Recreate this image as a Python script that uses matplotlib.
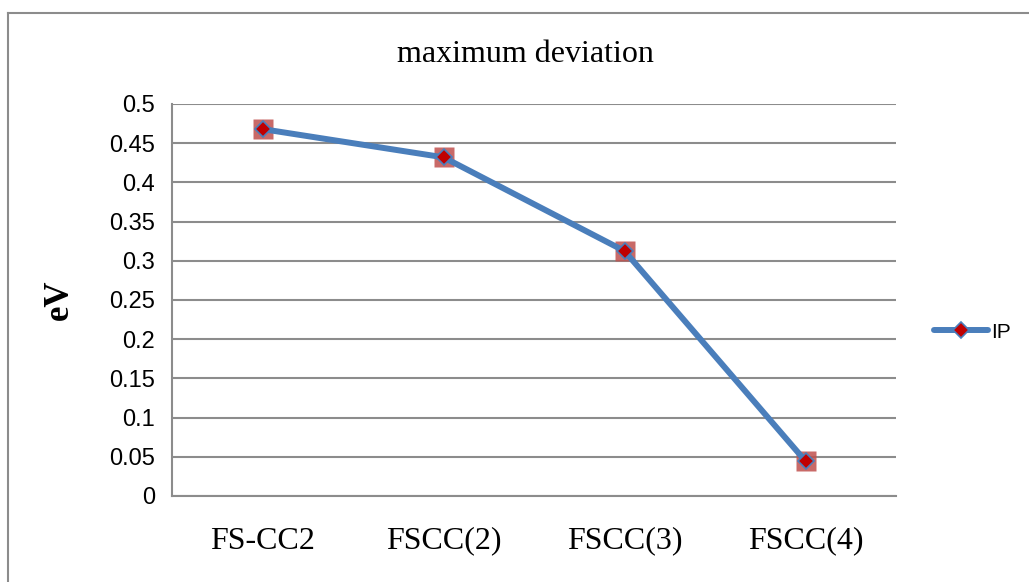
import matplotlib
matplotlib.use("Agg")
import matplotlib.pyplot as plt
from matplotlib.lines import Line2D
import numpy as np

categories = ["FS-CC2", "FSCC(2)", "FSCC(3)", "FSCC(4)"]
ip_values = [0.468, 0.432, 0.3125, 0.0445]
y_ticks = [0, 0.05, 0.1, 0.15, 0.2, 0.25, 0.3, 0.35, 0.4, 0.45, 0.5]
y_ticklabels = ["0", "0.05", "0.1", "0.15", "0.2", "0.25", "0.3", "0.35", "0.4", "0.45", "0.5"]
title = "maximum deviation"
ylabel = "eV"
series_name = "IP"

W, H = 1029, 582
fig = plt.figure(figsize=(W / 100, H / 100), dpi=100)
ax = fig.add_axes([172 / W, 1 - 496 / H, (896 - 172) / W, (496 - 104) / H])

line_color = "#4a7ebb"
grid_color = "#8c8c8c"

x = np.arange(len(categories))
ax.set_xlim(-0.5, len(categories) - 0.5)
ax.set_ylim(0, 0.5)

ax.plot(x, ip_values, linestyle="none", marker="s", markersize=14.4,
        markerfacecolor="#c0504d", markeredgecolor="none", alpha=0.85, zorder=3)
ax.plot(x, ip_values, color=line_color, lw=4.3, solid_capstyle="round",
        solid_joinstyle="round", marker="D", markersize=8.5,
        markerfacecolor="#c00000", markeredgecolor=line_color, markeredgewidth=1.2,
        label=series_name, zorder=4)

ax.set_yticks(y_ticks)
ax.set_yticklabels(y_ticklabels, fontsize=17, fontfamily="Liberation Sans")
ax.set_xticks(x)
ax.set_xticklabels(categories, fontsize=23, fontfamily="Liberation Serif")
ax.tick_params(axis="both", length=0)
ax.tick_params(axis="y", pad=12)
ax.tick_params(axis="x", pad=22)

ax.grid(axis="y", color=grid_color, lw=1.5)
ax.set_axisbelow(True)
for s in ["top", "right"]:
    ax.spines[s].set_visible(False)
for s in ["left", "bottom"]:
    ax.spines[s].set_color(grid_color)
    ax.spines[s].set_linewidth(1.5)

ax.set_ylabel(ylabel, fontsize=25, fontweight="bold", fontfamily="Liberation Serif",
              va="center")
ax.yaxis.set_label_coords(-(172 - 59) / (896 - 172), 0.5)

fig.text(525 / W, 1 - 55 / H, title, fontsize=23, fontfamily="Liberation Serif",
         ha="center", va="center")

fig.legend(loc="center left", bbox_to_anchor=(934 / W, 1 - 332 / H),
           frameon=False, handlelength=2.6, handletextpad=0.15, borderpad=0,
           borderaxespad=0, prop={"family": "Liberation Sans", "size": 15})

# chart area border (left and top edges visible)
fig.add_artist(Line2D([8 / W, 8 / W], [0, 1 - 13 / H], color=grid_color, lw=1.5,
                      transform=fig.transFigure))
fig.add_artist(Line2D([8 / W, 1], [1 - 13 / H, 1 - 13 / H], color=grid_color, lw=1.5,
                      transform=fig.transFigure))

fig.savefig("out.png", dpi=100)
